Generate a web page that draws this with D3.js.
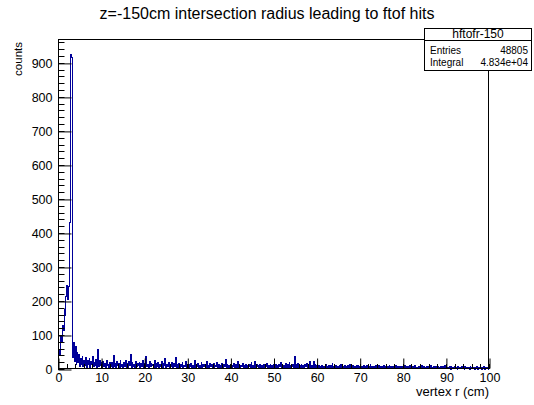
<!DOCTYPE html>
<html><head><meta charset="utf-8">
<script src="https://cdn.jsdelivr.net/npm/d3@7/dist/d3.min.js"></script>
<style>
html,body{margin:0;padding:0;background:#fff;}
svg{display:block;font-family:"Liberation Sans",Arial,Helvetica,sans-serif;}
</style></head>
<body><svg id="c" width="534" height="405"></svg>
<script>
// ---- data: histogram hftofr-150, 500 bins of 0.2 cm from 0 to 100 cm ----
const histName = "hftofr-150";
const chartTitle = "z=-150cm intersection radius leading to ftof hits";
const xTitle = "vertex r (cm)";
const yTitle = "counts";
const xRange = [0, 100];
const statLabels = ["Entries", "Integral"];
const statValues = ["48805", "4.834e+04"];
const xTickLabels = [0,10,20,30,40,50,60,70,80,90,100];
const yTickLabels = [0,100,200,300,400,500,600,700,800,900];

const counts_0_10 = [15,55,42,96,82,128,112,176,158,214,246,205,243,432,700,924,916,34,78,22,66,12,48,18,42,8,30,14,36,6,26,10,34,4,24,12,30,5,22,14,38,6,20,9,28,3,56,8,24,11];
const counts_10_20 = [18,4,22,7,16,3,24,9,14,2,20,6,18,5,40,8,15,3,22,10,17,4,26,6,13,2,19,8,24,5,16,3,21,9,42,4,18,7,14,2,23,6,17,10,20,3,15,8,25,5];
const counts_20_30 = [16,4,36,7,14,2,21,6,17,9,13,3,24,5,15,8,19,2,12,6,22,4,16,9,30,3,14,7,18,2,13,6,20,4,15,8,33,3,12,5,17,2,14,7,19,4,11,6,22,3];
const counts_30_40 = [14,4,12,6,17,2,11,5,24,3,13,7,15,2,10,5,18,4,12,6,14,2,21,5,11,3,16,7,12,4,15,2,10,6,19,3,13,5,11,2,16,4,12,7,27,3,14,5,10,4];
const counts_40_50 = [13,3,11,6,15,2,12,4,22,5,13,3,10,7,16,2,11,5,14,3,9,6,13,2,18,4,11,5,23,3,12,6,9,2,14,4,10,5,13,2,11,6,15,3,9,5,12,2,10,4];
const counts_50_60 = [12,3,14,5,10,2,13,6,20,3,11,4,9,2,15,5,12,3,18,4,11,6,14,2,36,5,12,3,16,4,10,2,13,5,9,3,12,6,15,2,11,4,23,3,10,5,22,2,12,4];
const counts_60_70 = [9,2,11,4,8,1,10,3,7,2,12,4,8,1,9,3,11,2,16,4,8,2,10,3,7,1,9,4,12,2,8,3,10,1,7,4,9,2,14,3,8,1,10,4,7,2,9,3,11,2];
const counts_70_80 = [8,2,7,3,10,1,6,4,9,2,7,3,12,1,8,2,6,3,9,1,7,4,10,2,6,1,8,3,11,2,7,1,6,3,9,2,7,1,8,3,6,2,10,1,7,3,8,2,6,1];
const counts_80_90 = [7,2,9,1,6,3,8,1,11,2,6,3,7,1,9,2,5,3,8,1,6,2,10,1,7,3,5,1,8,2,6,1,9,3,5,1,7,2,6,1,8,2,5,1,7,3,6,1,9,2];
const counts_90_100 = [6,1,5,2,8,0,6,2,4,1,7,2,5,0,6,1,4,2,8,1,5,0,6,2,4,1,5,0,7,1,4,2,5,0,3,1,6,0,4,2,5,0,3,1,6,0,3,1,4,0];

const counts = [].concat(counts_0_10, counts_10_20, counts_20_30, counts_30_40, counts_40_50,
  counts_50_60, counts_60_70, counts_70_80, counts_80_90, counts_90_100);

// ---- layout ----
const W = 534, H = 405;
const L = 58, R = 489, T = 39, B = 369;
const svg = d3.select("#c");
const font = '"Liberation Sans",Arial,Helvetica,sans-serif';

const nb = counts.length;
const bw = (xRange[1] - xRange[0]) / nb;
const ymax = d3.max(counts) * 1.05;

const x = d3.scaleLinear().domain(xRange).range([L, R]);
const y = d3.scaleLinear().domain([0, ymax]).range([B, T]);

svg.append("rect").attr("width", W).attr("height", H).attr("fill", "#fff");

// histogram outline
const pts = [[xRange[0], 0]];
counts.forEach((v, i) => {
  pts.push([xRange[0] + i * bw, v]);
  pts.push([xRange[0] + (i + 1) * bw, v]);
});
pts.push([xRange[1], 0]);
const line = d3.line().x(d => x(d[0])).y(d => y(d[1]));
svg.append("path").attr("d", line(pts))
  .attr("fill", "none").attr("stroke", "#000099").attr("stroke-width", 1)
  .attr("shape-rendering", "crispEdges");

// frame
svg.append("rect").attr("x", L + 0.5).attr("y", T + 0.5)
  .attr("width", R - L - 1).attr("height", B - T - 1)
  .attr("fill", "none").attr("stroke", "#000").attr("stroke-width", 1);

// minor ticks
const yMinor = d3.range(0, ymax, 20);
svg.append("g").selectAll("line").data(yMinor).join("line")
  .attr("x1", L).attr("x2", L + 6.5)
  .attr("y1", d => Math.round(y(d)) + 0.5).attr("y2", d => Math.round(y(d)) + 0.5)
  .attr("stroke", "#000");
const xMinor = d3.range(0, 100.001, 2);
svg.append("g").selectAll("line").data(xMinor).join("line")
  .attr("y1", B).attr("y2", B - 5)
  .attr("x1", d => Math.round(x(d)) + 0.5).attr("x2", d => Math.round(x(d)) + 0.5)
  .attr("stroke", "#000");

// axes
const yAxis = d3.axisLeft(y).tickValues(yTickLabels).tickSize(-13).tickPadding(6).tickFormat(d3.format("d"));
const gy = svg.append("g").attr("transform", `translate(${L + 0.5},0.5)`).call(yAxis);
const xAxis = d3.axisBottom(x).tickValues(xTickLabels).tickSize(-10).tickPadding(5).tickFormat(d3.format("d"));
const gx = svg.append("g").attr("transform", `translate(0.5,${B - 0.5})`).call(xAxis);
[gx, gy].forEach(g => {
  g.select(".domain").remove();
  g.selectAll(".tick line").attr("stroke", "#000");
  g.selectAll(".tick text").attr("fill", "#000").style("font-family", font).style("font-size", "12.5px");
});

// titles
svg.append("text").attr("x", 267).attr("y", 19).attr("text-anchor", "middle")
  .style("font-size", "16px").text(chartTitle);
svg.append("text").attr("x", R).attr("y", 396).attr("text-anchor", "end")
  .style("font-size", "13px").text(xTitle);
svg.append("text").attr("transform", "translate(22,42) rotate(-90)").attr("text-anchor", "end")
  .style("font-size", "11.5px").text(yTitle);

// stats box
const sb = svg.append("g");
sb.append("rect").attr("x", 424.5).attr("y", 28.5).attr("width", 107).attr("height", 42)
  .attr("fill", "#fff").attr("stroke", "#000");
sb.append("line").attr("x1", 424.5).attr("x2", 531.5).attr("y1", 40.5).attr("y2", 40.5).attr("stroke", "#000");
sb.append("text").attr("x", 478).attr("y", 38).attr("text-anchor", "middle")
  .style("font-size", "12px").text(histName);
statLabels.forEach((s, i) => {
  sb.append("text").attr("x", 430).attr("y", 54 + i * 12).style("font-size", "10px").text(s);
  sb.append("text").attr("x", 528).attr("y", 54 + i * 12).attr("text-anchor", "end")
    .style("font-size", "10px").text(statValues[i]);
});
</script></body></html>
